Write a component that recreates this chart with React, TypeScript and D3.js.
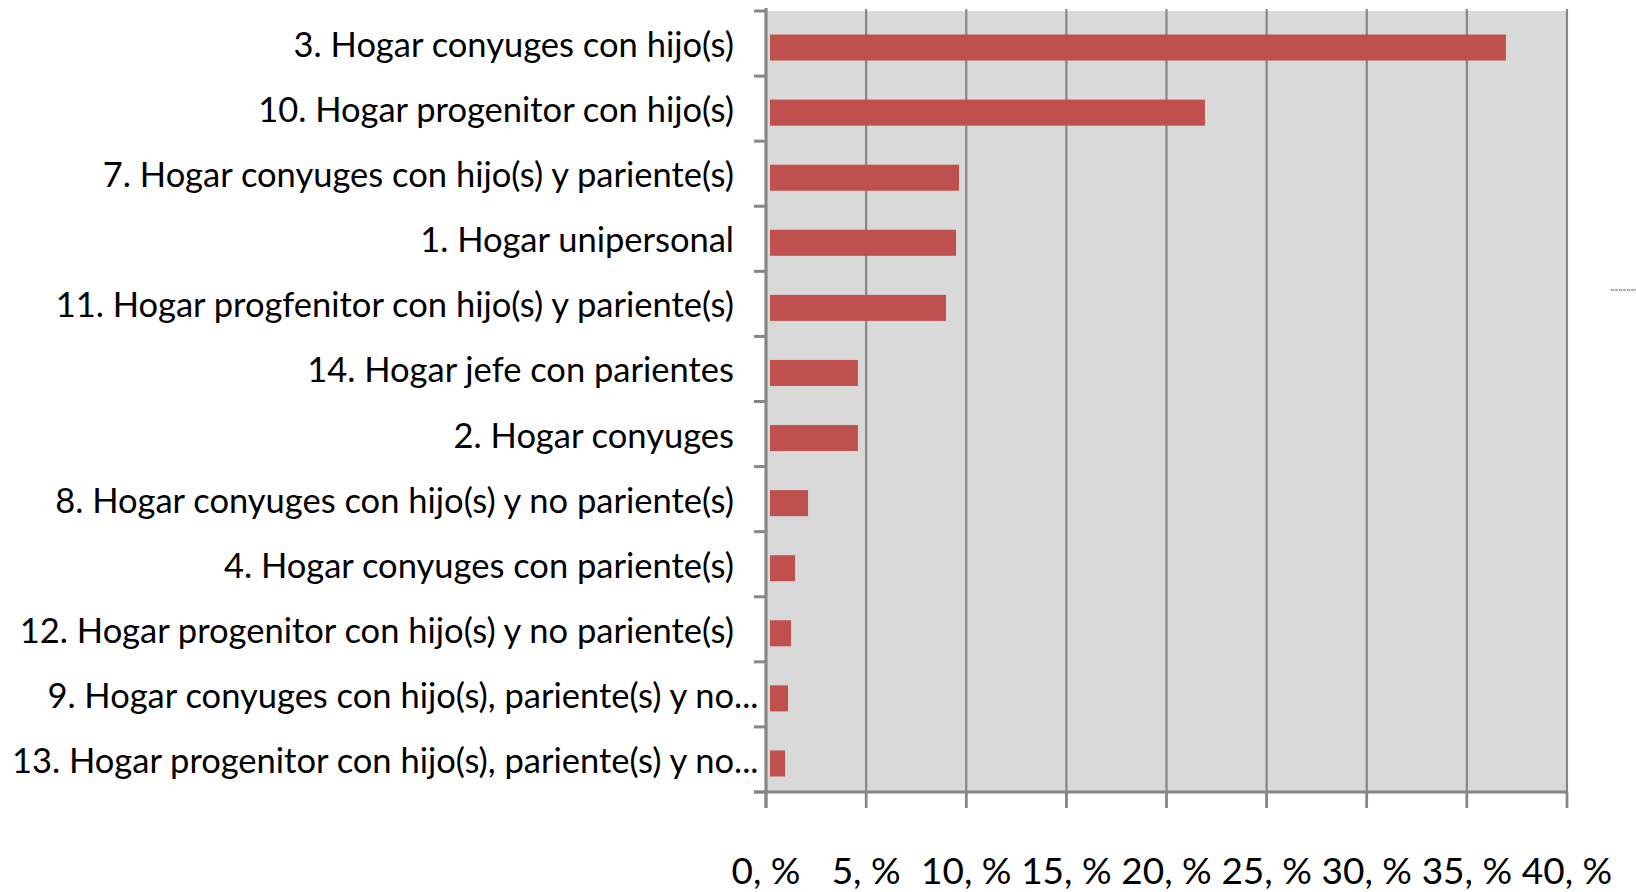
import React from "react";
import * as d3 from "d3";

const categories = [
  "3. Hogar conyuges con hijo(s)",
  "10. Hogar progenitor con hijo(s)",
  "7. Hogar conyuges con hijo(s) y pariente(s)",
  "1. Hogar unipersonal",
  "11. Hogar progfenitor con hijo(s) y pariente(s)",
  "14. Hogar jefe con parientes",
  "2. Hogar conyuges",
  "8. Hogar conyuges con hijo(s) y no pariente(s)",
  "4. Hogar conyuges con pariente(s)",
  "12. Hogar progenitor con hijo(s) y no pariente(s)",
  "9. Hogar conyuges con hijo(s), pariente(s) y no...",
  "13. Hogar progenitor con hijo(s), pariente(s) y no...",
];
const values = [36.75, 21.72, 9.44, 9.29, 8.79, 4.39, 4.39, 1.9, 1.25, 1.05, 0.9, 0.75];
const tickValues = [0, 5, 10, 15, 20, 25, 30, 35, 40];
const tickLabels = ["0, %", "5, %", "10, %", "15, %", "20, %", "25, %", "30, %", "35, %", "40, %"];

const W = 1636;
const H = 892;
const M = { left: 766, right: 1567, top: 11, bottom: 792 };
const GRID = "#868686";
const BAR = "#c0504d";
const FILL = "#d9d9d9";
const FONT = "Lato, 'Open Sans', sans-serif";

export default function App() {
  const x = d3.scaleLinear().domain([0, 40]).range([M.left, M.right]);
  const y = d3
    .scaleBand<string>()
    .domain(categories)
    .range([M.top, M.bottom])
    .paddingInner(0.6)
    .paddingOuter(0.3);
  const step = y.step();
  const boundaries = d3.range(categories.length + 1).map((i) => M.top + i * step);

  return (
    <svg
      width={W}
      height={H}
      style={{ position: "absolute", left: 0, top: 0, background: "#fff" }}
    >
      <rect x={M.left} y={M.top} width={M.right - M.left} height={M.bottom - M.top} fill={FILL} />
      {tickValues.slice(1).map((t) => (
        <line key={"g" + t} x1={x(t)} x2={x(t)} y1={M.top - 2} y2={M.bottom + 16} stroke={GRID} strokeWidth={2.2} />
      ))}
      {values.map((v, i) => (
        <rect
          key={"b" + i}
          x={x(0) + 4}
          y={(y(categories[i]) as number) + 4}
          width={x(v) - x(0)}
          height={y.bandwidth()}
          fill={BAR}
        />
      ))}
      {/* left axis */}
      <line x1={M.left} x2={M.left} y1={M.top - 3} y2={M.bottom + 16} stroke={GRID} strokeWidth={3.2} />
      {boundaries.map((b, i) => (
        <line key={"lt" + i} x1={M.left - 12} x2={M.left} y1={b} y2={b} stroke={GRID} strokeWidth={3} />
      ))}
      {/* bottom axis */}
      <line x1={M.left - 12} x2={M.right + 1} y1={M.bottom} y2={M.bottom} stroke={GRID} strokeWidth={3.2} />
      {tickValues.map((t) => (
        <line key={"bt" + t} x1={x(t)} x2={x(t)} y1={M.bottom} y2={M.bottom + 16} stroke={GRID} strokeWidth={2.6} />
      ))}
      {/* category labels */}
      {categories.map((c, i) => {
        const cy = (y(c) as number) + y.bandwidth() / 2;
        const trunc = c.endsWith("...");
        const main = trunc ? c.slice(0, -3) : c;
        return (
          <g key={"l" + i} fontFamily={FONT} fontSize={34.5} fill="#000">
            <text x={M.left - 32} y={cy + 13.5} textAnchor="end">
              {main}
            </text>
            {trunc && (
              <text x={M.left - 32} y={cy + 13.5} textAnchor="start">
                ...
              </text>
            )}
          </g>
        );
      })}
      {/* tick labels */}
      {tickValues.map((t, i) => (
        <text
          key={"tl" + t}
          x={x(t)}
          y={884}
          textAnchor="middle"
          fontFamily={FONT}
          fontSize={37}
          fill="#000"
        >
          {tickLabels[i]}
        </text>
      ))}
      <line x1={1611} x2={1636} y1={290} y2={290} stroke="#555" strokeWidth={1} strokeDasharray="3,1" />
    </svg>
  );
}
